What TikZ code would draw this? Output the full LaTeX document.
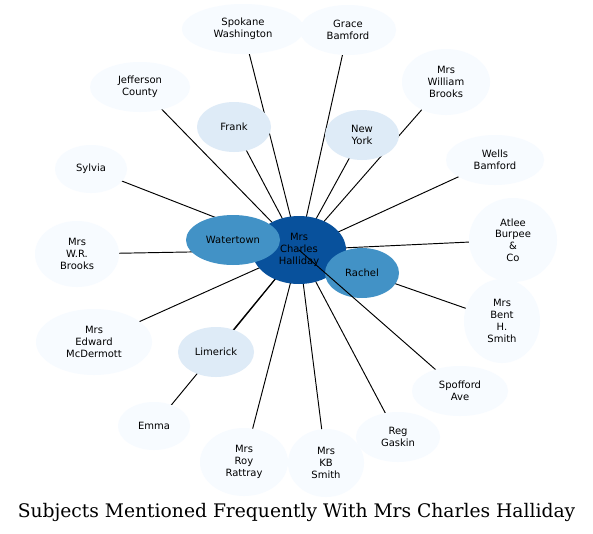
\documentclass[tikz,border=0pt]{standalone}
\usepackage{fontspec}
\setmainfont{DejaVu Sans}
\newfontfamily\titlefont{DejaVu Serif}
\definecolor{cdark}{HTML}{08519C}
\definecolor{cmid}{HTML}{4292C6}
\definecolor{clight}{HTML}{DEEBF7}
\definecolor{cpale}{HTML}{F7FBFF}
\tikzset{
  lab/.style={align=center, font=\fontsize{10}{11.8}\selectfont},
  edge/.style={draw=black, line width=0.95pt},
}
\begin{document}
\begin{tikzpicture}[x=1pt,y=-1pt]
\useasboundingbox (0,0) rectangle (593,533);
\fill[white] (0,0) rectangle (593,533);
% coordinates
\coordinate (c) at (299,250);
\coordinate (water) at (233,240);
\coordinate (rachel) at (362,273);
\coordinate (frank) at (234,127);
\coordinate (ny) at (362,135);
\coordinate (lim) at (216,352);
\coordinate (spok) at (243,29);
\coordinate (grace) at (348,30);
\coordinate (wbrooks) at (446,82);
\coordinate (jeff) at (140,87);
\coordinate (wells) at (495,160);
\coordinate (sylvia) at (91,169);
\coordinate (atlee) at (513,240);
\coordinate (wrbrooks) at (77,254);
\coordinate (bent) at (502,321);
\coordinate (mcd) at (94,342);
\coordinate (spof) at (460,391);
\coordinate (emma) at (154,426);
\coordinate (reg) at (398,437);
\coordinate (roy) at (244,462);
\coordinate (kb) at (326,463);
% edges
\foreach \n in {water,frank,ny,lim,spok,grace,wbrooks,jeff,wells,sylvia,atlee,wrbrooks,bent,mcd,emma,reg,roy,kb,rachel}
  \draw[edge] (c) -- (\n);
% central nodes
\fill[cdark] (c) ellipse [x radius=47, y radius=34];
\fill[cmid] (water) ellipse [x radius=47, y radius=25];
\fill[cmid] (rachel) ellipse [x radius=37, y radius=25];
\draw[edge] (c) -- (spof);
% outer nodes
\fill[cpale] (spok) ellipse [x radius=61, y radius=25];
\fill[cpale] (grace) ellipse [x radius=48, y radius=25];
\fill[cpale] (wbrooks) ellipse [x radius=44, y radius=33];
\fill[cpale] (jeff) ellipse [x radius=50, y radius=25];
\fill[cpale] (wells) ellipse [x radius=49, y radius=25];
\fill[cpale] (sylvia) ellipse [x radius=36, y radius=24];
\fill[cpale] (atlee) ellipse [x radius=44, y radius=42];
\fill[cpale] (wrbrooks) ellipse [x radius=42, y radius=33];
\fill[cpale] (bent) ellipse [x radius=38, y radius=42];
\fill[cpale] (mcd) ellipse [x radius=58, y radius=33];
\fill[cpale] (spof) ellipse [x radius=48, y radius=25];
\fill[cpale] (emma) ellipse [x radius=36, y radius=24];
\fill[cpale] (reg) ellipse [x radius=42, y radius=25];
\fill[cpale] (roy) ellipse [x radius=44, y radius=34];
\fill[cpale] (kb) ellipse [x radius=38, y radius=34];
\fill[clight] (frank) ellipse [x radius=37, y radius=25];
\fill[clight] (ny) ellipse [x radius=37, y radius=25];
\fill[clight] (lim) ellipse [x radius=38, y radius=25];
% labels
\node[lab] (tspok) at (spok) {Spokane\\Washington};
\node[lab] (tgrace) at (grace) {Grace\\Bamford};
\node[lab] (twb) at (wbrooks) {Mrs\\William\\Brooks};
\node[lab] (tjeff) at (jeff) {Jefferson\\County};
\node[lab] (twells) at (wells) {Wells\\Bamford};
\node[lab] (tsyl) at (sylvia) {Sylvia};
\node[lab] (tatlee) at (atlee) {Atlee\\Burpee\\\&\\Co};
\node[lab] (twr) at (wrbrooks) {Mrs\\W.R.\\Brooks};
\node[lab] (tbent) at (bent) {Mrs\\Bent\\H.\\Smith};
\node[lab] (tmcd) at (mcd) {Mrs\\Edward\\McDermott};
\node[lab] (tspof) at (spof) {Spofford\\Ave};
\node[lab] (temma) at (emma) {Emma};
\node[lab] (treg) at (reg) {Reg\\Gaskin};
\node[lab] (troy) at (roy) {Mrs\\Roy\\Rattray};
\node[lab] (tkb) at (kb) {Mrs\\KB\\Smith};
\node[lab] (tfrank) at (frank) {Frank};
\node[lab] (tny) at (ny) {New\\York};
\node[lab] (tlim) at (lim) {Limerick};
\node[lab] (twater) at (water) {Watertown};
\node[lab] (trachel) at (rachel) {Rachel};
\node[lab] (tc) at (c) {Mrs\\Charles\\Halliday};
\node[font=\titlefont\fontsize{18.7}{20}\selectfont] (title) at (296.5,512) {Subjects Mentioned Frequently With Mrs Charles Halliday};
\end{tikzpicture}
\end{document}
